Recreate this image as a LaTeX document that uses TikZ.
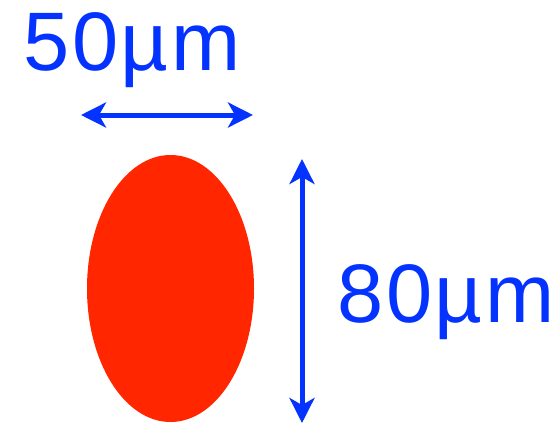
\documentclass[tikz,border=0pt]{standalone}
\usepackage{fontspec}
\setmainfont{Liberation Sans}
\newfontfamily\dimfont[LetterSpace=3]{Liberation Sans}
\usetikzlibrary{arrows.meta,shapes.geometric}
\definecolor{cellred}{RGB}{255,38,0}
\definecolor{dimblue}{RGB}{4,51,255}
\begin{document}
\begin{tikzpicture}[x=1pt,y=1pt,
  dimarrow/.style={dimblue, line width=5pt, {Stealth[length=25pt,width=25pt,inset=7pt]}-{Stealth[length=25pt,width=25pt,inset=7pt]}},
  dimlabel/.style={dimblue, inner sep=0pt, anchor=base west, font=\dimfont\fontsize{83}{83}\selectfont}]
\useasboundingbox (0,0) rectangle (559,424);
\node[ellipse, fill=cellred, inner sep=0pt, minimum width=167pt, minimum height=267pt] (cell) at (170.5,135.5) {};
\coordinate (wl) at (81,309);
\coordinate (wr) at (253,309);
\coordinate (ht) at (302,265);
\coordinate (hb) at (302,1);
\draw[dimarrow] (wl) -- (wr);
\draw[dimarrow] (ht) -- (hb);
\node[dimlabel] (width) at (23.5,353) {50µm};
\node[dimlabel] (height) at (337.5,102) {80µm};
\end{tikzpicture}
\end{document}
